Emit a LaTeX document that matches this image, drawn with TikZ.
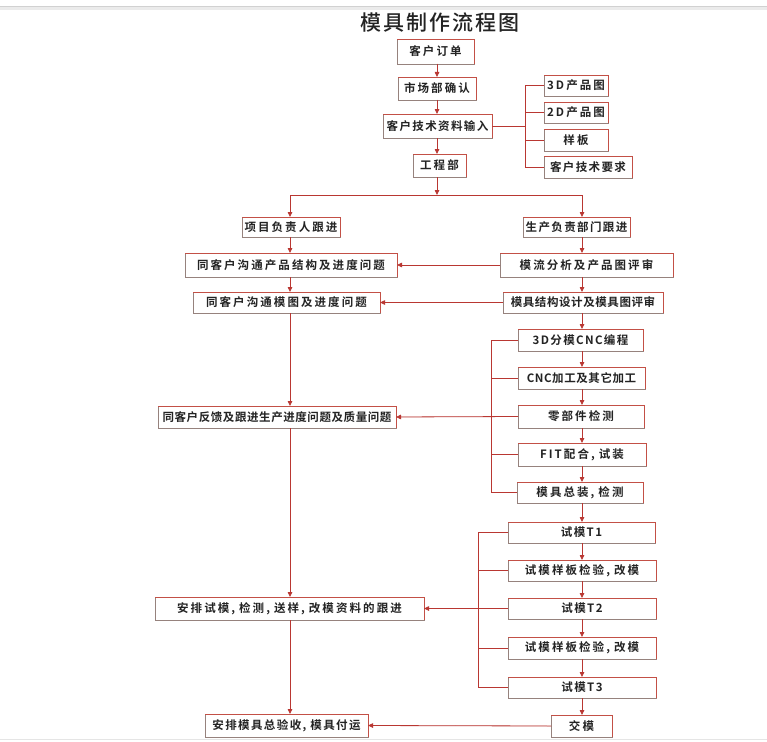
\documentclass[tikz,border=0pt]{standalone}
\usepackage{fontspec}
\usetikzlibrary{arrows.meta}
\newfontfamily\cjkbs{Noto Sans CJK SC Bold}[LetterSpace=18]
\newfontfamily\cjkbm{Noto Sans CJK SC Bold}[LetterSpace=12]
\newfontfamily\cjkbt{Noto Sans CJK SC Bold}[LetterSpace=5]
\newfontfamily\cjkt{Noto Sans CJK SC Medium}[LetterSpace=10]
\definecolor{lnc}{RGB}{185,55,50}
\definecolor{bdg}{RGB}{150,130,125}
\definecolor{bdr}{RGB}{195,80,70}
\definecolor{txc}{RGB}{35,35,35}
\tikzset{
  box/.style={draw=bdg, line width=0.8pt, fill=white, inner sep=0pt, outer sep=0pt, text=txc},
  redge/.style={draw=bdr, line width=0.9pt},
  ln/.style={draw=lnc, line width=0.8pt},
  arr/.style={draw=lnc, line width=0.8pt, -{Triangle[length=5pt,width=4.5pt]}, fill=lnc},
}
\newcommand\bx[7]{\node[box,font=#7,minimum width={#4-#2},minimum height={#5-#3}] (#1) at ({(#2+#4)/2},{(#3+#5)/2}) {#6};}
\newcommand\fs{\fontsize{11.5}{13}\selectfont}
\newcommand\cm{,\hspace{4pt}}
\begin{document}
\begin{tikzpicture}[x=1pt,y=-1pt]
\useasboundingbox (0,0) rectangle (767,741);
\fill[white] (0,0) rectangle (767,741);
\fill[black!8] (0,6) rectangle (767,10);
\draw[black!18, line width=0.6pt] (0,6) -- (767,6);
\draw[black!10, line width=0.6pt] (0,739) -- (767,739);

\node[font=\cjkt\fontsize{21}{22}\selectfont, text=txc] (title) at (440,23) {模具制作流程图};

% top chain
\bx{n1}{397}{39}{474}{64}{客户订单}{\cjkbs\fs}
\bx{n2}{398}{77}{476}{100}{市场部确认}{\cjkbs\fs}
\bx{n3}{383}{114}{492}{138}{客户技术资料输入}{\cjkbm\fs}
\bx{n4}{413}{154}{466}{177}{工程部}{\cjkbs\fs}
\bx{r1}{544}{75}{608}{96}{3D产品图}{\cjkbs\fs}
\bx{r2}{544}{102}{608}{123}{2D产品图}{\cjkbs\fs}
\bx{r3}{544}{129}{608}{151}{样板}{\cjkbs\fs}
\bx{r4}{544}{156}{632}{178}{客户技术要求}{\cjkbm\fs}

% left column
\bx{L1}{242}{217}{340}{237}{项目负责人跟进}{\cjkbs\fs}
\bx{L2}{185}{253}{397}{277}{同客户沟通产品结构及进度问题}{\cjkbs\fs}
\bx{L3}{193}{292}{380}{313}{同客户沟通模图及进度问题}{\cjkbs\fs}
\bx{L4}{158}{406}{396}{428}{同客户反馈及跟进生产进度问题及质量问题}{\cjkbt\fs}
\bx{L5}{155}{597}{424}{620}{安排试模\cm 检测\cm 送样\cm 改模资料的跟进}{\cjkbs\fs}
\bx{L6}{205}{714}{368}{737}{安排模具总验收\cm 模具付运}{\cjkbm\fs}

% right column
\bx{R1}{523}{217}{630}{237}{生产负责部门跟进}{\cjkbm\fs}
\bx{R2}{500}{253}{673}{277}{模流分析及产品图评审}{\cjkbs\fs}
\bx{R3}{503}{292}{663}{313}{模具结构设计及模具图评审}{\cjkbt\fs}
\bx{R4}{518}{329}{643}{351}{3D分模CNC编程}{\cjkbm\fs}
\bx{R5}{518}{367}{645}{389}{CNC加工及其它加工}{\cjkbt\fs}
\bx{R6}{518}{405}{644}{428}{零部件检测}{\cjkbs\fs}
\bx{R7}{518}{443}{646}{466}{FIT配合\cm 试装}{\cjkbs\fs}
\bx{R8}{517}{482}{643}{503}{模具总装\cm 检测}{\cjkbs\fs}
\bx{T1}{508}{522}{655}{543}{试模T1}{\cjkbm\fs}
\bx{T2}{508}{560}{656}{581}{试模样板检验\cm 改模}{\cjkbs\fs}
\bx{T3}{508}{598}{656}{619}{试模T2}{\cjkbm\fs}
\bx{T4}{508}{637}{656}{659}{试模样板检验\cm 改模}{\cjkbs\fs}
\bx{T5}{508}{677}{656}{698}{试模T3}{\cjkbm\fs}
\bx{T6}{551}{715}{612}{737}{交模}{\cjkbs\fs}

\foreach \n in {n1,n2,n3,n4,r1,r2,r3,r4,L1,L2,L3,L4,L5,L6,R1,R2,R3,R4,R5,R6,R7,R8,T1,T2,T3,T4,T5,T6}
  \draw[redge] (\n.north west) -- (\n.north east) -- (\n.south east);

\coordinate (cM) at (437,0);
\coordinate (cL) at (290,0);
\coordinate (cR) at (582,0);
\coordinate (sp) at (437,195);
\coordinate (b1) at (525,126);
\coordinate (b2) at (491,0);
\coordinate (b3) at (478,0);

% top chain
\draw[arr] (n1.south -| cM) -- (n2.north -| cM);
\draw[arr] (n2.south -| cM) -- (n3.north -| cM);
\draw[arr] (n3.south -| cM) -- (n4.north -| cM);
\draw[arr] (n4.south -| cM) -- (sp);
\draw[ln] (sp -| cL) -- (sp -| cR);
\draw[arr] (sp -| cL) -- (L1.north -| cL);
\draw[arr] (sp -| cR) -- (R1.north -| cR);

% bracket for inputs
\draw[ln] (n3.east |- b1) -- (b1);
\draw[ln] (r1.west -| b1) -- (r4.west -| b1);
\foreach \n in {r1,r2,r3,r4} \draw[ln] (\n.west -| b1) -- (\n.west);

% left column
\draw[arr] (L1.south -| cL) -- (L2.north -| cL);
\draw[arr] (L2.south -| cL) -- (L3.north -| cL);
\draw[arr] (L3.south -| cL) -- (L4.north -| cL);
\draw[arr] (L4.south -| cL) -- (L5.north -| cL);
\draw[arr] (L5.south -| cL) -- (L6.north -| cL);

% right column
\draw[arr] (R1.south -| cR) -- (R2.north -| cR);
\draw[arr] (R2.south -| cR) -- (R3.north -| cR);
\draw[arr] (R3.south -| cR) -- (R4.north -| cR);
\draw[arr] (R4.south -| cR) -- (R5.north -| cR);
\draw[arr] (R5.south -| cR) -- (R6.north -| cR);
\draw[arr] (R6.south -| cR) -- (R7.north -| cR);
\draw[arr] (R7.south -| cR) -- (R8.north -| cR);
\draw[arr] (R8.south -| cR) -- (T1.north -| cR);
\draw[arr] (T1.south -| cR) -- (T2.north -| cR);
\draw[arr] (T2.south -| cR) -- (T3.north -| cR);
\draw[arr] (T3.south -| cR) -- (T4.north -| cR);
\draw[arr] (T4.south -| cR) -- (T5.north -| cR);
\draw[arr] (T5.south -| cR) -- (T6.north -| cR);

% brackets
\draw[ln] (R4.west -| b2) -- (R8.west -| b2);
\foreach \n in {R4,R5,R7,R8} \draw[ln] (\n.west -| b2) -- (\n.west);
\draw[ln] (T1.west -| b3) -- (T5.west -| b3);
\foreach \n in {T1,T2,T4,T5} \draw[ln] (\n.west -| b3) -- (\n.west);

% horizontal arrows
\draw[arr] (R2.west) -- (L2.east);
\draw[arr] (R3.west) -- (L3.east);
\draw[arr] (R6.west) -- (L4.east);
\draw[arr] (T3.west) -- (L5.east);
\draw[arr] (T6.west) -- (L6.east);
\end{tikzpicture}
\end{document}
